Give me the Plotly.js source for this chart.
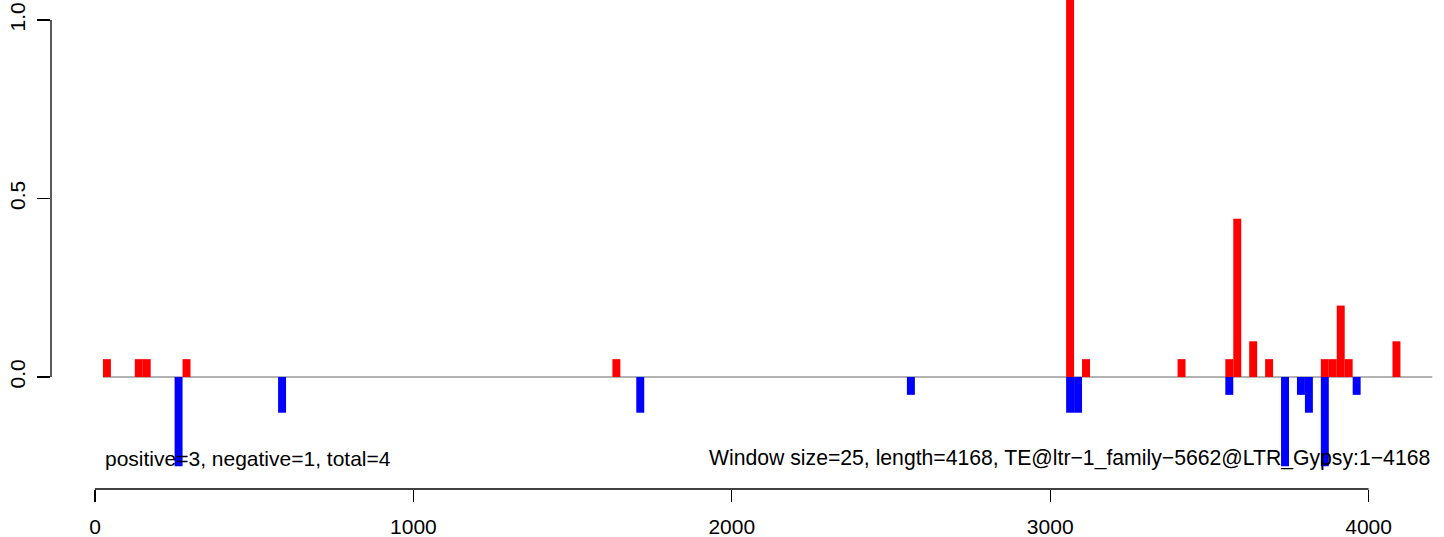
<!DOCTYPE html>
<html>
<head>
<meta charset="utf-8">
<script src="https://cdn.plot.ly/plotly-3.0.1.min.js"></script>
<style>html,body{margin:0;padding:0;background:#fff;} #chart{width:1444px;height:537px;}</style>
</head>
<body>
<div id="chart"></div>
<script>
// ---- data ----
const windowSize = 25;
const seqLength = 4168;
const posStarts = [25, 125, 150, 275, 1625, 3050, 3100, 3400, 3550, 3575, 3625, 3675, 3850, 3875, 3900, 3925, 4075];
const posValues = [0.05, 0.05, 0.05, 0.05, 0.05, 1.2, 0.05, 0.05, 0.05, 0.443, 0.1, 0.05, 0.05, 0.05, 0.2, 0.05, 0.1];
const negStarts = [250, 575, 1700, 2550, 3050, 3075, 3550, 3725, 3775, 3800, 3850, 3950];
const negValues = [-0.25, -0.1, -0.1, -0.05, -0.1, -0.1, -0.05, -0.25, -0.05, -0.1, -0.25, -0.05];
const xTicks = [0, 1000, 2000, 3000, 4000];
const xTickLabels = ["0", "1000", "2000", "3000", "4000"];
const yTicks = [0, 0.5, 1.0];
const yTickLabels = ["0.0", "0.5", "1.0"];
const leftLabel = "positive=3, negative=1, total=4";
const rightLabel = "Window size=25, length=4168, TE@ltr\u22121_family\u22125662@LTR_Gypsy:1\u22124168";

const FONT = "Liberation Sans, Arial, Helvetica, sans-serif";

const traces = [
  {
    type: "bar",
    x: posStarts.map(s => s + windowSize / 2),
    y: posValues,
    width: posStarts.map(() => windowSize),
    marker: {color: "#ff0000", line: {width: 0}},
    hoverinfo: "skip"
  },
  {
    type: "bar",
    x: negStarts.map(s => s + windowSize / 2),
    y: negValues,
    width: negStarts.map(() => windowSize),
    marker: {color: "#0000ff", line: {width: 0}},
    hoverinfo: "skip"
  }
];

const layout = {
  width: 1444,
  height: 537,
  margin: {l: 51, r: 0, t: 0, b: 48},
  paper_bgcolor: "#ffffff",
  plot_bgcolor: "#ffffff",
  showlegend: false,
  barmode: "overlay",
  font: {family: FONT, size: 21, color: "#000000"},
  xaxis: {
    range: [-138.2, 4236.8],
    showgrid: false,
    zeroline: false,
    showline: false,
    ticks: "outside",
    ticklen: 12,
    tickwidth: 1.2,
    tickcolor: "#000000",
    tickmode: "array",
    tickvals: xTicks,
    ticktext: xTickLabels,
    ticklabelstandoff: 7,
    tickfont: {family: FONT, size: 21, color: "#000000"},
    fixedrange: true
  },
  yaxis: {
    range: [-0.3137, 1.056],
    showgrid: false,
    zeroline: false,
    showline: false,
    ticks: "outside",
    ticklen: 13,
    tickwidth: 1.2,
    tickcolor: "#000000",
    tickmode: "array",
    tickvals: yTicks,
    ticktext: yTickLabels,
    tickangle: -90,
    ticklabelstandoff: 4,
    tickfont: {family: FONT, size: 21, color: "#000000"},
    fixedrange: true
  },
  shapes: [
    // zero reference line
    {type: "line", xref: "x", yref: "y", x0: windowSize, x1: seqLength + windowSize + 7, y0: 0, y1: 0,
     line: {color: "#666666", width: 1}, layer: "below"},
    // x axis line (first to last tick)
    {type: "line", xref: "x", yref: "paper", x0: xTicks[0], x1: xTicks[xTicks.length - 1], y0: 0, y1: 0,
     line: {color: "#000000", width: 1.3}},
    // y axis line (first to last tick)
    {type: "line", xref: "paper", yref: "y", x0: 0, x1: 0, y0: yTicks[0], y1: yTicks[yTicks.length - 1],
     line: {color: "#000000", width: 1.3}}
  ],
  annotations: [
    {xref: "x", yref: "y", x: windowSize, y: -0.227, text: leftLabel, showarrow: false,
     xanchor: "left", yanchor: "middle", font: {family: FONT, size: 21, color: "#000000"}},
    {xref: "x", yref: "y", x: seqLength + windowSize + 7, y: -0.227, text: rightLabel, showarrow: false,
     xanchor: "right", yanchor: "middle", font: {family: FONT, size: 21.2, color: "#000000"}}
  ]
};

Plotly.newPlot("chart", traces, layout, {displayModeBar: false, staticPlot: true});
</script>
</body>
</html>
